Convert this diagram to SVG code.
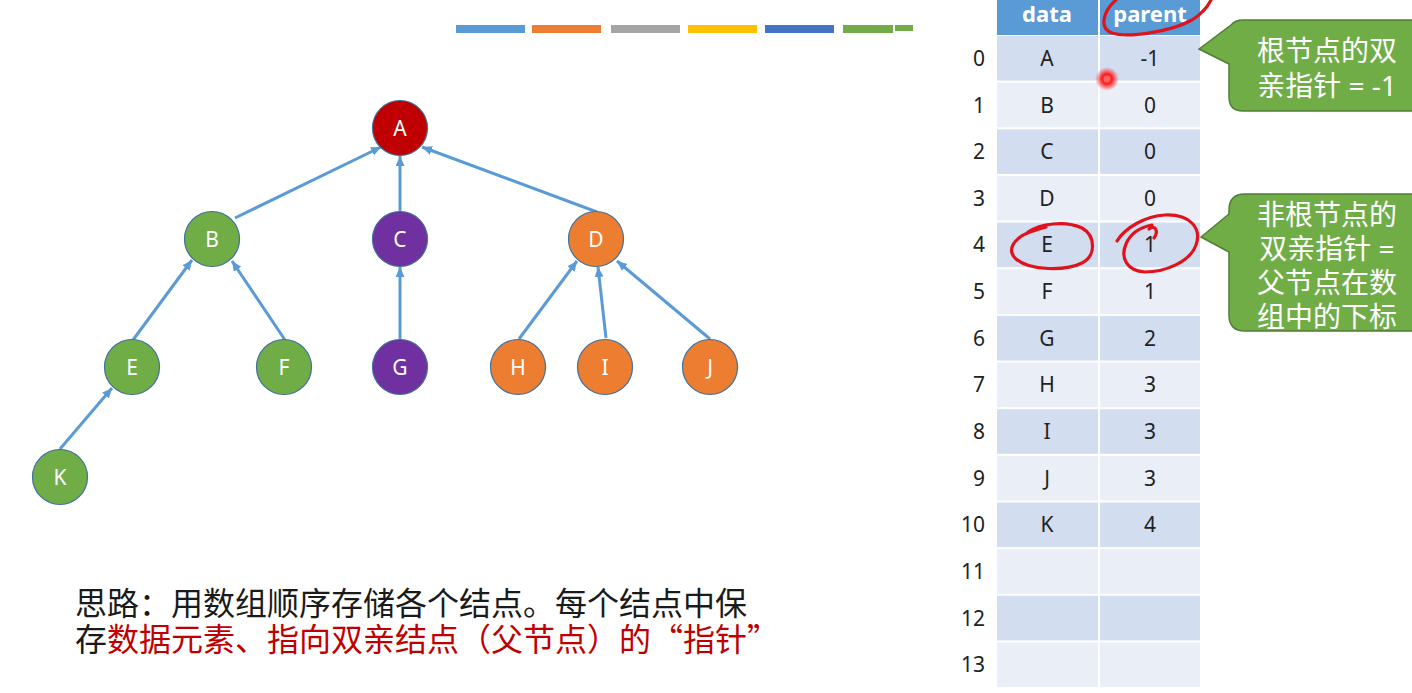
<svg xmlns="http://www.w3.org/2000/svg" width="1412" height="693" viewBox="0 0 1412 693">
<defs>
<style>
.node circle{stroke:#41719C;stroke-width:1.2}
.node text{font-family:"Noto Sans","DejaVu Sans",sans-serif;font-size:21px;fill:#fff;text-anchor:middle}
.edge{stroke:#5B9BD5;stroke-width:3;fill:none;marker-end:url(#arr)}
.cell text,.idx text{font-family:"Noto Sans","DejaVu Sans",sans-serif;font-size:21px;fill:#222}
.cell text{text-anchor:middle}
.idx text{text-anchor:end}
.hd{font-family:"Noto Sans","DejaVu Sans",sans-serif;font-size:22px;font-weight:bold;fill:#fff;text-anchor:middle}
.rA{fill:#D2DDF0}.rB{fill:#EAEEF7}
.co{fill:#70AD47;stroke:#507E32;stroke-width:1.5}
.cot{font-family:"Noto Sans","Noto Sans CJK SC",sans-serif;font-size:28px;fill:#fff;text-anchor:middle}
.ink{fill:none;stroke:#E0121C;stroke-width:3.2;stroke-linecap:round;stroke-linejoin:round}
.note{font-family:"Noto Sans CJK SC",sans-serif;font-size:32px}
</style>
<marker id="arr" markerUnits="userSpaceOnUse" markerWidth="11" markerHeight="10" refX="10" refY="4.5" orient="auto">
<path d="M0,0 L10,4.5 L0,9 Z" fill="#5B9BD5"/>
</marker>
<radialGradient id="glow">
<stop offset="0" stop-color="#ff2020" stop-opacity="1"/>
<stop offset="0.45" stop-color="#ff1010" stop-opacity="0.9"/>
<stop offset="1" stop-color="#ff3030" stop-opacity="0"/>
</radialGradient>
</defs>
<rect width="1412" height="693" fill="#fff"/>

<!-- color bars -->
<g id="bars">
<rect x="456" y="25" width="69" height="8" fill="#5B9BD5"/>
<rect x="532" y="25" width="69" height="8" fill="#ED7D31"/>
<rect x="611" y="25" width="69" height="8" fill="#A5A5A5"/>
<rect x="688" y="25" width="69" height="8" fill="#FFC000"/>
<rect x="765" y="25" width="69" height="8" fill="#4472C4"/>
<rect x="843" y="25" width="50" height="8" fill="#70AD47"/>
<rect x="895" y="25" width="18" height="6" fill="#70AD47"/>
</g>

<!-- connectors -->
<g id="connectors">
<line class="edge" x1="235" y1="218" x2="381" y2="147"/>
<line class="edge" x1="400" y1="212" x2="400" y2="156"/>
<line class="edge" x1="597" y1="212" x2="422" y2="147"/>
<line class="edge" x1="133" y1="340" x2="192" y2="260"/>
<line class="edge" x1="285" y1="340" x2="232" y2="261"/>
<line class="edge" x1="400" y1="340" x2="400" y2="267"/>
<line class="edge" x1="519" y1="339" x2="577" y2="261"/>
<line class="edge" x1="606" y1="338" x2="598" y2="267"/>
<line class="edge" x1="710" y1="339" x2="617" y2="261"/>
<line class="edge" x1="60" y1="449" x2="112" y2="388"/>
</g>

<!-- nodes -->
<g id="nA" class="node"><circle cx="400" cy="128" r="27.5" fill="#C00000"/><text x="400" y="136">A</text></g>
<g id="nB" class="node"><circle cx="212" cy="239" r="27.5" fill="#70AD47"/><text x="212" y="247">B</text></g>
<g id="nC" class="node"><circle cx="400" cy="239" r="27.5" fill="#7030A0"/><text x="400" y="247">C</text></g>
<g id="nD" class="node"><circle cx="596" cy="239" r="27.5" fill="#ED7D31"/><text x="596" y="247">D</text></g>
<g id="nE" class="node"><circle cx="132" cy="367" r="27.5" fill="#70AD47"/><text x="132" y="375">E</text></g>
<g id="nF" class="node"><circle cx="284" cy="367" r="27.5" fill="#70AD47"/><text x="284" y="375">F</text></g>
<g id="nG" class="node"><circle cx="400" cy="367" r="27.5" fill="#7030A0"/><text x="400" y="375">G</text></g>
<g id="nH" class="node"><circle cx="518" cy="367" r="27.5" fill="#ED7D31"/><text x="518" y="375">H</text></g>
<g id="nI" class="node"><circle cx="605" cy="367" r="27.5" fill="#ED7D31"/><text x="605" y="375">I</text></g>
<g id="nJ" class="node"><circle cx="710" cy="367" r="27.5" fill="#ED7D31"/><text x="710" y="375">J</text></g>
<g id="nK" class="node"><circle cx="60" cy="477" r="27.5" fill="#70AD47"/><text x="60" y="485">K</text></g>

<!-- table -->
<g id="table">
<rect x="997" y="-10" width="101" height="45" fill="#5B9BD5"/>
<rect x="1100" y="-10" width="100" height="45" fill="#5B9BD5"/>
<text class="hd" x="1047" y="22">data</text>
<text class="hd" x="1150" y="22">parent</text>
<g class="cell">
<rect class="rA" x="997" y="36" width="101" height="44.6"/><rect class="rA" x="1100" y="36" width="100" height="44.6"/>
<rect class="rB" x="997" y="82.7" width="101" height="44.6"/><rect class="rB" x="1100" y="82.7" width="100" height="44.6"/>
<rect class="rA" x="997" y="129.3" width="101" height="44.6"/><rect class="rA" x="1100" y="129.3" width="100" height="44.6"/>
<rect class="rB" x="997" y="176" width="101" height="44.6"/><rect class="rB" x="1100" y="176" width="100" height="44.6"/>
<rect class="rA" x="997" y="222.6" width="101" height="44.6"/><rect class="rA" x="1100" y="222.6" width="100" height="44.6"/>
<rect class="rB" x="997" y="269.3" width="101" height="44.6"/><rect class="rB" x="1100" y="269.3" width="100" height="44.6"/>
<rect class="rA" x="997" y="315.9" width="101" height="44.6"/><rect class="rA" x="1100" y="315.9" width="100" height="44.6"/>
<rect class="rB" x="997" y="362.6" width="101" height="44.6"/><rect class="rB" x="1100" y="362.6" width="100" height="44.6"/>
<rect class="rA" x="997" y="409.2" width="101" height="44.6"/><rect class="rA" x="1100" y="409.2" width="100" height="44.6"/>
<rect class="rB" x="997" y="455.9" width="101" height="44.6"/><rect class="rB" x="1100" y="455.9" width="100" height="44.6"/>
<rect class="rA" x="997" y="502.5" width="101" height="44.6"/><rect class="rA" x="1100" y="502.5" width="100" height="44.6"/>
<rect class="rB" x="997" y="549.2" width="101" height="44.6"/><rect class="rB" x="1100" y="549.2" width="100" height="44.6"/>
<rect class="rA" x="997" y="595.8" width="101" height="44.6"/><rect class="rA" x="1100" y="595.8" width="100" height="44.6"/>
<rect class="rB" x="997" y="642.5" width="101" height="44.6"/><rect class="rB" x="1100" y="642.5" width="100" height="44.6"/>
<text x="1047" y="66">A</text><text x="1150" y="66">-1</text>
<text x="1047" y="113">B</text><text x="1150" y="113">0</text>
<text x="1047" y="159">C</text><text x="1150" y="159">0</text>
<text x="1047" y="206">D</text><text x="1150" y="206">0</text>
<text x="1047" y="252">E</text><text x="1150" y="252">1</text>
<text x="1047" y="299">F</text><text x="1150" y="299">1</text>
<text x="1047" y="346">G</text><text x="1150" y="346">2</text>
<text x="1047" y="392">H</text><text x="1150" y="392">3</text>
<text x="1047" y="439">I</text><text x="1150" y="439">3</text>
<text x="1047" y="486">J</text><text x="1150" y="486">3</text>
<text x="1047" y="532">K</text><text x="1150" y="532">4</text>
</g>
<g class="idx">
<text x="985" y="66">0</text>
<text x="985" y="113">1</text>
<text x="985" y="159">2</text>
<text x="985" y="206">3</text>
<text x="985" y="252">4</text>
<text x="985" y="299">5</text>
<text x="985" y="346">6</text>
<text x="985" y="392">7</text>
<text x="985" y="439">8</text>
<text x="985" y="486">9</text>
<text x="985" y="532">10</text>
<text x="985" y="579">11</text>
<text x="985" y="626">12</text>
<text x="985" y="672">13</text>
</g>
</g>

<!-- callouts -->
<g id="callout1">
<path class="co" d="M1243,20 H1420 V111 H1243 Q1229,111 1229,97 V64 L1199,49 L1231,25 Q1235,20 1243,20 Z"/>
<text class="cot" x="1327" y="61">根节点的双</text>
<text class="cot" x="1327" y="96">亲指针 = -1</text>
</g>
<g id="callout2">
<path class="co" d="M1245,194 H1420 V331 H1245 Q1229,331 1229,315 V252 L1201,237 L1229,214 V210 Q1229,194 1245,194 Z"/>
<text class="cot" x="1327" y="225">非根节点的</text>
<text class="cot" x="1327" y="259">双亲指针 =</text>
<text class="cot" x="1327" y="293">父节点在数</text>
<text class="cot" x="1327" y="327">组中的下标</text>
</g>

<!-- bottom note -->
<g id="note" class="note">
<text x="75" y="615" fill="#1a1a1a">思路：用数组顺序存储各个结点。每个结点中保</text>
<text x="75" y="651" fill="#1a1a1a">存<tspan fill="#C00000">数据元素、指向双亲结点（父节点）的“指针”</tspan></text>
</g>

<!-- hand annotations -->
<g id="ink">
<path class="ink" d="M1116,0 C1104,10 1098,28 1112,33 C1128,38 1170,32 1192,20 C1203,13 1208,6 1211,0"/>
<path class="ink" d="M1028,232 C1040,224 1065,220 1082,228 C1096,236 1096,256 1082,263 C1066,271 1030,271 1016,259 C1006,250 1014,238 1030,232 C1036,230 1042,228 1046,227"/>
<path class="ink" d="M1117,241 C1125,228 1145,216 1165,215 C1190,214 1202,228 1196,245 C1190,262 1165,272 1145,272 C1127,271 1120,258 1126,244 C1131,232 1142,227 1152,225"/>
<path class="ink" d="M1149,229 C1155,224 1159,231 1154,238"/>
<circle cx="1107" cy="79" r="12" fill="url(#glow)"/>
<circle cx="1107" cy="79" r="3.5" fill="#ff6060"/>
</g>
</svg>
